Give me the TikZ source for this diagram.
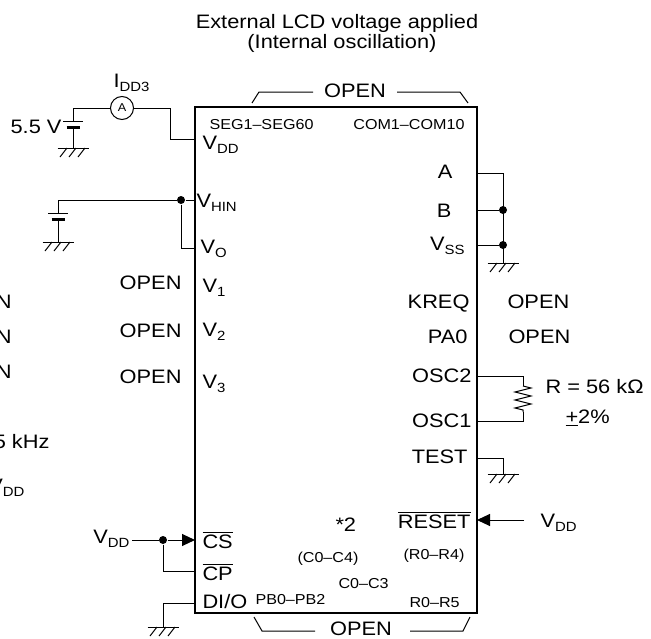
\documentclass[tikz,border=0pt]{standalone}
\usepackage{fontspec}
\setmainfont{Liberation Sans}[FakeStretch=1.12]
\usetikzlibrary{arrows.meta}
\newcommand\mainf{\fontsize{14.6}{16}\selectfont}
\newcommand\smallf{\fontsize{10.8}{12}\selectfont}
\newcommand\subf{\fontsize{10}{10}\selectfont}
\newcommand\sbs[1]{\raisebox{-3pt}{\subf #1}}
\newcommand\ovl[1]{$\overline{\mbox{#1}}$}
\begin{document}
\begin{tikzpicture}[x=0.75pt,y=-0.75pt,line width=0.75pt,
  lbl/.style={inner sep=0pt,font=\mainf},
  sml/.style={inner sep=0pt,font=\smallf},
  dot/.style={circle,fill,inner sep=0pt,minimum size=6pt},
  arr/.style={-{Triangle[length=9.75pt,width=9pt]}},
  chip/.style={line width=0.9pt},
  gnd/.pic={\draw (-15.5,0) -- (15.5,0);
            \foreach \hx in {-6,3,12} \draw (\hx,0) -- (\hx-7,9);},
  cell/.pic={\draw (-10,0) -- (10,0);
             \draw[line width=2.25pt] (-6.5,6) -- (6.5,6);}
]
\useasboundingbox (0,0) rectangle (651,639);
\clip (0,0) rectangle (651,639);

% title
\node[lbl,anchor=base] (t1) at (337,28) {External LCD voltage applied};
\node[lbl,anchor=base] (t2) at (342,48) {(Internal oscillation)};

% chip box
\draw[chip] (195,107) rectangle (477,613);

% top / bottom OPEN
\node[lbl,anchor=base] (otop) at (355,97) {OPEN};
\draw (252,103) -- (259,92) -- (313,92);
\draw (397,92) -- (460,92) -- (468,103);
\node[lbl,anchor=base] (obot) at (361,635) {OPEN};
\draw (254,617) -- (262,631) -- (315,631);
\draw (410,631) -- (463,631) -- (470,617);

% pin coordinates
\coordinate (pVDD) at (195,139);
\coordinate (pHIN) at (195,200);
\coordinate (pVO) at (195,248);
\coordinate (pCS) at (195,540);
\coordinate (pCP) at (195,571);
\coordinate (pDIO) at (195,603);
\coordinate (pA) at (477,173);
\coordinate (pB) at (477,210);
\coordinate (pVSS) at (477,245);
\coordinate (pOSC2) at (477,376);
\coordinate (pOSC1) at (477,421);
\coordinate (pTEST) at (477,458);
\coordinate (pRES) at (477,520);

% cut-off texts at left edge (as in the reference)
\node[lbl,anchor=base east] (cn1) at (12,308) {N};
\node[lbl,anchor=base east] (cn2) at (12,343) {N};
\node[lbl,anchor=base east] (cn3) at (12,378) {N};
\node[lbl,anchor=base east] (ckhz) at (50,448) {5 kHz};
\node[lbl,anchor=base east] (cvdd) at (25,492) {V\sbs{DD}};

% left supply with ammeter
\node[lbl,anchor=base east] (v55) at (62,133) {5.5 V};
\node[lbl,anchor=base west] (idd) at (113,87) {I\sbs{DD3}};
\node[circle,draw,inner sep=0pt,minimum size=17.25pt,font=\fontsize{8.5}{9}\selectfont] (am) at (122,108) {A};
\pic at (73,121) {cell};
\coordinate (b1top) at (73,121);
\coordinate (b1bot) at (73,127);
\coordinate (g1) at (73,148);
\pic at (g1) {gnd};
\draw (b1top) |- (am.west);
\draw (b1bot) -- (g1);
\draw (am.east) -- (170,108) |- (pVDD);

% V_HIN supply
\pic at (58,213) {cell};
\coordinate (b2top) at (58,213);
\coordinate (b2bot) at (58,219);
\coordinate (g2) at (58,242);
\pic at (g2) {gnd};
\node[dot] (dHIN) at (181,200) {};
\draw (b2top) |- (dHIN) -- (pHIN);
\draw (b2bot) -- (g2);
\draw (dHIN) |- (pVO);

% left OPEN labels
\node[lbl,anchor=base east] (o1) at (182,289) {OPEN};
\node[lbl,anchor=base east] (o2) at (182,337) {OPEN};
\node[lbl,anchor=base east] (o3) at (182,383) {OPEN};

% left pin labels in box
\node[sml,anchor=base west] (seg) at (209,129) {SEG1–SEG60};
\node[lbl,anchor=base west] (lvdd) at (202,149) {V\sbs{DD}};
\node[lbl,anchor=base west] (lhin) at (196,207) {V\sbs{HIN}};
\node[lbl,anchor=base west] (lvo) at (200,253) {V\sbs{O}};
\node[lbl,anchor=base west] (lv1) at (202,292) {V\sbs{1}};
\node[lbl,anchor=base west] (lv2) at (202,336) {V\sbs{2}};
\node[lbl,anchor=base west] (lv3) at (202,388) {V\sbs{3}};
\node[lbl,anchor=base west] (lcs) at (202,548) {\ovl{CS}};
\node[lbl,anchor=base west] (lcp) at (202,580) {\ovl{CP}};
\node[lbl,anchor=base west] (ldio) at (202,608) {DI/O};

% bottom inner labels
\node[sml,anchor=base west] (pb) at (255,604) {PB0–PB2};
\node[sml,anchor=base west] (cc4) at (297,562) {(C0–C4)};
\node[sml,anchor=base west] (cc3) at (338,588) {C0–C3};
\node[lbl,anchor=base west] (st2) at (335,531) {*2};
\node[sml,anchor=base west] (rr4) at (403,559) {(R0–R4)};
\node[sml,anchor=base west] (rr5) at (409,607) {R0–R5};

% bottom left wiring
\node[lbl,anchor=base east] (vddL) at (130,543) {V\sbs{DD}};
\node[dot] (dCS) at (163,540) {};
\draw ([xshift=1.5pt]vddL.east |- pCS) -- (dCS);
\draw[arr] (dCS) -- (pCS);
\draw (dCS) |- (pCP);
\coordinate (g5) at (163,627);
\draw (pDIO) -| (g5);
\pic at (g5) {gnd};

% right pin labels
\node[sml,anchor=base east] (com) at (465,129) {COM1–COM10};
\node[lbl,anchor=base east] (la) at (453,178) {A};
\node[lbl,anchor=base east] (lb) at (452,217) {B};
\node[lbl,anchor=base east] (lvss) at (465,250) {V\sbs{SS}};
\node[lbl,anchor=base east] (lkreq) at (470,308) {KREQ};
\node[lbl,anchor=base east] (lpa0) at (468,343) {PA0};
\node[lbl,anchor=base east] (losc2) at (472,382) {OSC2};
\node[lbl,anchor=base east] (losc1) at (472,427) {OSC1};
\node[lbl,anchor=base east] (ltest) at (468,463) {TEST};
\node[lbl,anchor=base east] (lres) at (471,528) {\ovl{RESET}};

% right wiring
\coordinate (g3) at (503,263);
\node[dot] (dB) at (503,210) {};
\node[dot] (dVSS) at (503,245) {};
\draw (pA) -| (g3);
\draw (pB) -- (dB);
\draw (pVSS) -- (dVSS);
\pic at (g3) {gnd};

\node[lbl,anchor=base west] (okreq) at (507,308) {OPEN};
\node[lbl,anchor=base west] (opa0) at (508,343) {OPEN};

\coordinate (rt) at (523,386);
\coordinate (rb) at (523,412);
\draw (pOSC2) -| (rt);
\draw (rt) -- (531,388) -- (515,392) -- (531,396) -- (515,400) -- (531,404) -- (515,408) -- (523,410) -- (rb);
\draw (rb) |- (pOSC1);
\node[lbl,anchor=base west] (rval) at (545,393) {R = 56 kΩ};
\node[lbl,anchor=base west] (rtol) at (565,423) {\underline{+}2\%};

\coordinate (g4) at (503,474);
\draw (pTEST) -| (g4);
\pic at (g4) {gnd};

\node[lbl,anchor=base west] (vddR) at (540,527) {V\sbs{DD}};
\draw[arr] ([xshift=-12pt]vddR.west |- pRES) -- (pRES);
\end{tikzpicture}
\end{document}
